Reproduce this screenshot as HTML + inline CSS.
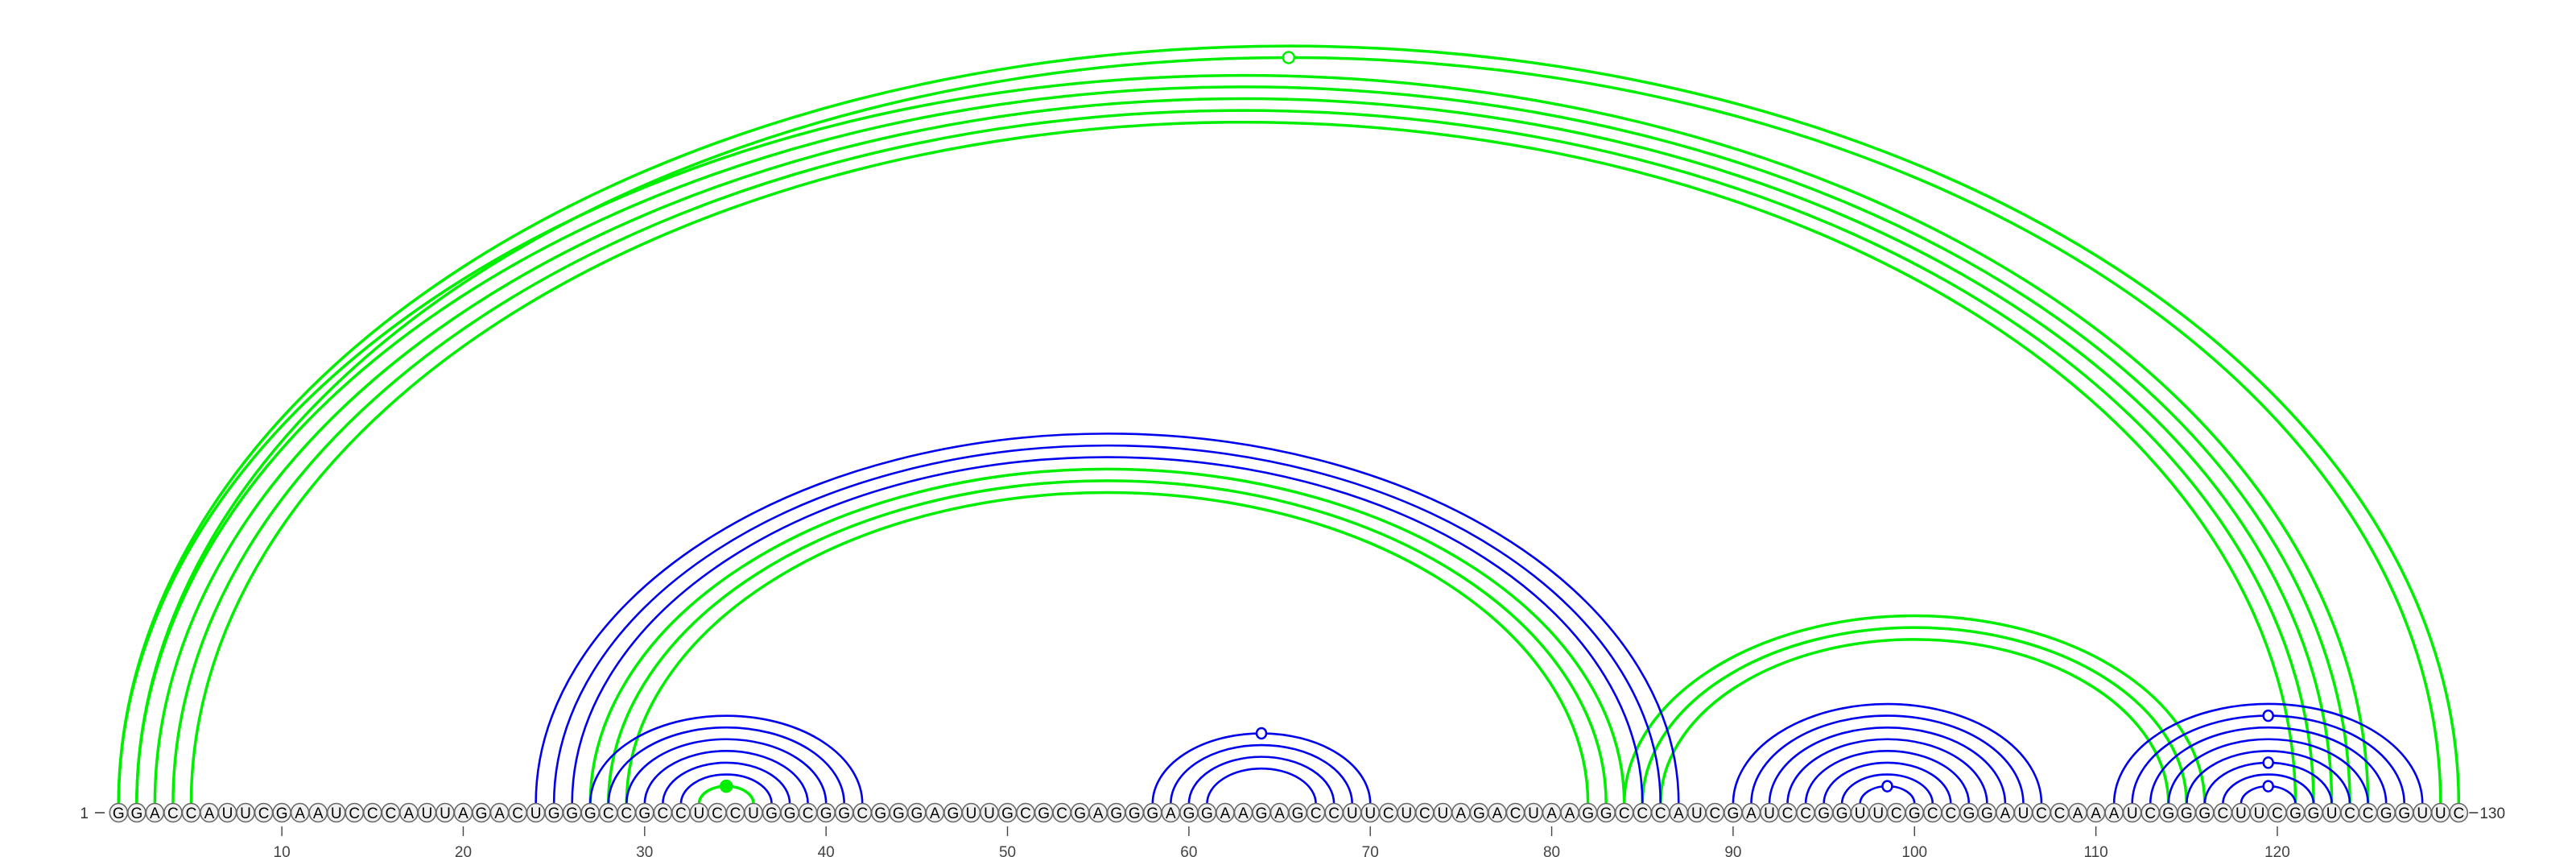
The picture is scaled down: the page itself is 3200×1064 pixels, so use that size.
<!DOCTYPE html>
<html><head><meta charset="utf-8"><style>
html,body{margin:0;padding:0;background:#fff;}
svg{display:block;}
text{font-family:"Liberation Sans",sans-serif;}
</style></head><body>
<svg id="chart" width="3200" height="1064" viewBox="0 0 3200 1064" xmlns="http://www.w3.org/2000/svg">
<g id="arcs"></g>
<g id="bases"></g>
<g id="axis"></g>
</svg>
<script>
const sequence = "GGACCAUUCGAAUCCCAUUAGACUGGGCCGCCUCCUGGCGGCGGGAGUUGCGCGAGGGAGGAAGAGCCUUCUCUAGACUAAGGCCCAUCGAUCCGGUUCGCCGGAUCCAAAUCGGGCUUCGGUCCGGUUC";
const greenPairs = [[1,130],[2,129],[1,125],[2,124],[3,123],[4,122],[5,121],[27,84],[28,83],[29,82],[33,36],[84,116],[85,115],[86,114]];
const bluePairs = [[24,87],[25,86],[26,85],[27,42],[28,41],[29,40],[30,39],[31,38],[32,37],[58,70],[59,69],[60,68],[61,67],[90,107],[91,106],[92,105],[93,104],[94,103],[95,102],[96,101],[97,100],[111,128],[112,127],[113,126],[114,125],[115,124],[116,123],[117,122],[118,121]];
const greenMarkers = [[2,129,"open"],[33,36,"filled"]];
const blueMarkers = [[58,70],[97,100],[112,127],[116,123],[118,121]];
const tickPositions = [10,20,30,40,50,60,70,80,90,100,110,120];

const NS="http://www.w3.org/2000/svg";
const X0=147.3, DX=22.535, BASE=998, CY=1009, RATIO=0.6475;
function x(i){return X0+(i-1)*DX;}
function ry(i,j){return RATIO*Math.abs(x(j)-x(i))/2;}
function mk(tag,attrs,parent){const e=document.createElementNS(NS,tag);for(const k in attrs)e.setAttribute(k,attrs[k]);parent.appendChild(e);return e;}
const arcs=document.getElementById('arcs'), bases=document.getElementById('bases'), axis=document.getElementById('axis');

function drawArcs(pairs,color,w,name){
  pairs.forEach(p=>{
    const x1=x(p[0]),x2=x(p[1]),rx=(x2-x1)/2,r=ry(p[0],p[1]);
    const el=mk('path',{d:`M${x1},${BASE} A${rx},${r} 0 0 1 ${x2},${BASE}`,fill:'none',stroke:color,'stroke-width':w},arcs);
    
    
  });
}
drawArcs(greenPairs,'#00ee00',3.5,'green-arc');
drawArcs(bluePairs,'#0000ee',2.6,'blue-arc');

greenMarkers.forEach(m=>{
  const cx=(x(m[0])+x(m[1]))/2, cy=BASE-ry(m[0],m[1]);
  const el=mk('ellipse',{cx:cx,cy:cy,rx:7,ry:7,fill:m[2]==='filled'?'#00ee00':'#fff',stroke:'#00ee00','stroke-width':2.5},arcs);
  
  
});
blueMarkers.forEach(m=>{
  const cx=(x(m[0])+x(m[1]))/2, cy=BASE-ry(m[0],m[1]);
  const el=mk('ellipse',{cx:cx,cy:cy,rx:6,ry:6.5,fill:'#fff',stroke:'#0000ee','stroke-width':2.5},arcs);
  
  
});

for(let i=1;i<=sequence.length;i++){
  const g=mk('g',{},bases);
  
  
  mk('ellipse',{cx:x(i),cy:CY,rx:11,ry:11.5,fill:'#f0f0f0',stroke:'#666','stroke-width':1.6},g);
  const t=mk('text',{x:x(i),y:CY+7,'text-anchor':'middle','font-size':19,fill:'#000'},g);
  t.textContent=sequence[i-1];
}
const s1=mk('text',{x:110,y:CY+7,'text-anchor':'end','font-size':19,fill:'#333'},axis);
s1.textContent='1';


mk('line',{x1:118,y1:CY,x2:130,y2:CY,stroke:'#333','stroke-width':1.5},axis);
mk('line',{x1:x(130)+13,y1:CY,x2:x(130)+24,y2:CY,stroke:'#333','stroke-width':1.5},axis);
const s2=mk('text',{x:x(130)+26,y:CY+7,'font-size':19,fill:'#333'},axis);
s2.textContent='130';


tickPositions.forEach(p=>{
  mk('line',{x1:x(p),y1:1026,x2:x(p),y2:1038,stroke:'#444','stroke-width':1.4},axis);
  const t=mk('text',{x:x(p),y:1064,'text-anchor':'middle','font-size':19,fill:'#444'},axis);
  t.textContent=String(p);
  
  
});
</script>
</body></html>
